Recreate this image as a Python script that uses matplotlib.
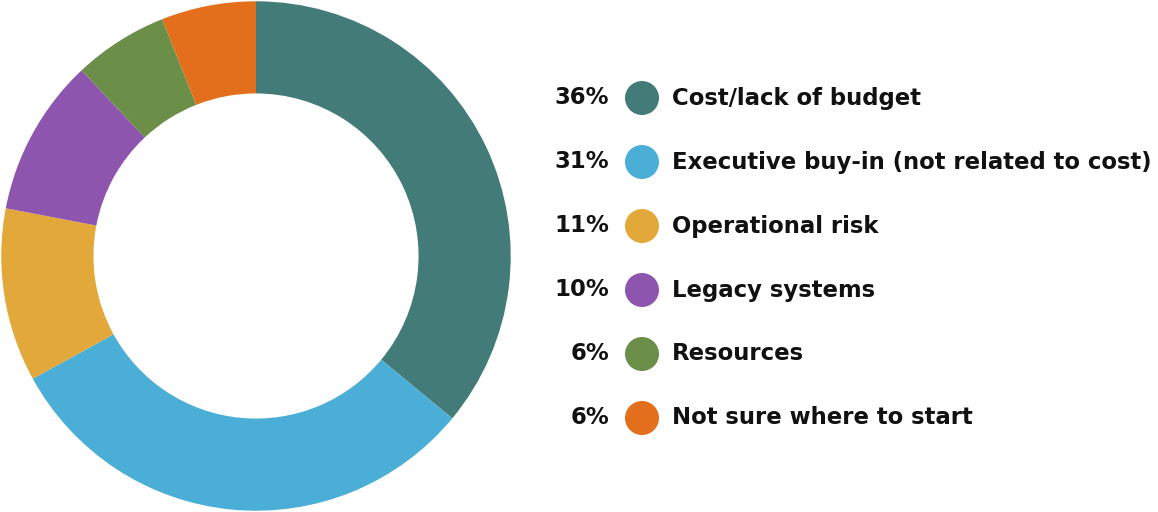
import matplotlib.pyplot as plt

labels = ['Cost/lack of budget', 'Executive buy-in (not related to cost)',
          'Operational risk', 'Legacy systems', 'Resources',
          'Not sure where to start']
shares = [36, 31, 11, 10, 6, 6]
colors = ['#437b78', '#4baed6', '#e2a83a', '#8e55ae', '#6b8e48', '#e36f1c']

W, H = 1158, 512
fig = plt.figure(figsize=(W / 100, H / 100), dpi=100)

# donut on the left, clockwise from twelve o'clock
ax = fig.add_axes([0, 0, H / W, 1])
ax.pie(shares, colors=colors, startangle=90, counterclock=False,
       radius=0.995, wedgeprops=dict(width=0.36, edgecolor='none'))
ax.set_xlim(-1, 1)
ax.set_ylim(-1, 1)
ax.set_aspect('equal')
ax.axis('off')

# legend rows drawn in pixel coordinates
lg = fig.add_axes([0, 0, 1, 1])
lg.set_xlim(0, W)
lg.set_ylim(H, 0)
lg.axis('off')
font = dict(family=['DejaVu Sans'], fontweight='bold',
            fontsize=16.4, color='#111111', va='center')
y0, dy = 98, 64
dot = (34 * 72 / 100) ** 2
for i, (lab, val, col) in enumerate(zip(labels, shares, colors)):
    y = y0 + i * dy
    lg.text(609, y, f'{val}%', ha='right', **font)
    lg.scatter([642], [y], s=dot, color=col, edgecolors='none')
    lg.text(672, y, lab, ha='left', **font)

fig.savefig('out.png', dpi=100)
